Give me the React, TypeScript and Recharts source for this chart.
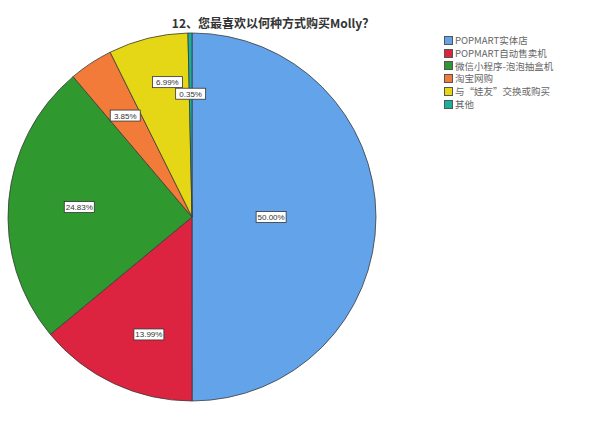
import { Cell, Legend, Pie, PieChart } from "recharts"

const categorias = [
  "POPMART实体店",
  "POPMART自动售卖机",
  "微信小程序-泡泡抽盒机",
  "淘宝网购",
  "与“娃友”交换或购买",
  "其他",
]
const percentuais = [50.0, 13.99, 24.83, 3.85, 6.99, 0.35]

const cores = ["#63a3e9", "#dc2440", "#2f982f", "#f27b39", "#e6d716", "#1ab09e"]
// posição do rótulo: fração do raio e desvio em graus do ângulo médio
const raioRotulo = [0.43, 0.68, 0.615, 0.66, 0.745, 0.67]
const desvioRotulo = [0, 5, 0, 0, -3.5, 0]

const dados = categorias.map((nome, i) => ({ nome, valor: percentuais[i] }))

const RAD = Math.PI / 180

function Rotulo(props: any) {
  const { cx, cy, midAngle, outerRadius, index, value } = props
  const r = outerRadius * raioRotulo[index]
  const a = midAngle + desvioRotulo[index]
  const x = cx + r * Math.cos(-a * RAD)
  const y = cy + r * Math.sin(-a * RAD)
  const w = 30
  const h = 11
  return (
    <g>
      <rect
        x={x - w / 2}
        y={y - h / 2}
        width={w}
        height={h}
        fill="#fff"
        stroke="#333"
        strokeWidth={0.8}
      />
      <text
        x={x}
        y={y + 3}
        textAnchor="middle"
        fontSize={8}
        fill="#333"
        fontFamily="'Liberation Sans', Arial, sans-serif"
      >
        {value.toFixed(2)}%
      </text>
    </g>
  )
}

function Legenda() {
  return (
    <div style={{ fontFamily: "'Noto Sans CJK SC', sans-serif", fontSize: 9.5, color: "#666" }}>
      {categorias.map((c, i) => (
        <div
          key={c}
          style={{
            display: "flex",
            alignItems: "center",
            height: 12.8,
            lineHeight: "12.8px",
            whiteSpace: "nowrap",
          }}
        >
          <span
            style={{
              display: "inline-block",
              width: 7,
              height: 7,
              background: cores[i],
              border: "1px solid #555",
              marginRight: 2,
            }}
          />
          <span>{c}</span>
        </div>
      ))}
    </div>
  )
}

export default function App() {
  return (
    <div
      style={{
        position: "absolute",
        left: 0,
        top: 0,
        width: 600,
        height: 423,
        background: "#fff",
      }}
    >
      <div
        style={{
          position: "absolute",
          left: 0,
          width: 546,
          top: 15,
          textAlign: "center",
          fontFamily: "'Noto Sans CJK SC', 'Liberation Sans', sans-serif",
          fontWeight: 700,
          fontSize: 12,
          color: "#333",
          lineHeight: "16px",
        }}
      >
        12、您最喜欢以何种方式购买Molly？
      </div>
      <PieChart width={600} height={423} margin={{ top: 0, right: 0, bottom: 0, left: 0 }}>
        <Pie
          data={dados}
          dataKey="valor"
          nameKey="nome"
          cx={192}
          cy={217}
          outerRadius={184}
          startAngle={90}
          endAngle={-270}
          stroke="#3a3a3a"
          strokeWidth={0.8}
          labelLine={false}
          label={Rotulo}
          isAnimationActive={false}
        >
          {dados.map((d, i) => (
            <Cell key={d.nome} fill={cores[i]} />
          ))}
        </Pie>
        <Legend
          layout="vertical"
          align="right"
          verticalAlign="top"
          content={() => <Legenda />}
          wrapperStyle={{ left: 444, top: 34, width: 150 }}
        />
      </PieChart>
    </div>
  )
}
